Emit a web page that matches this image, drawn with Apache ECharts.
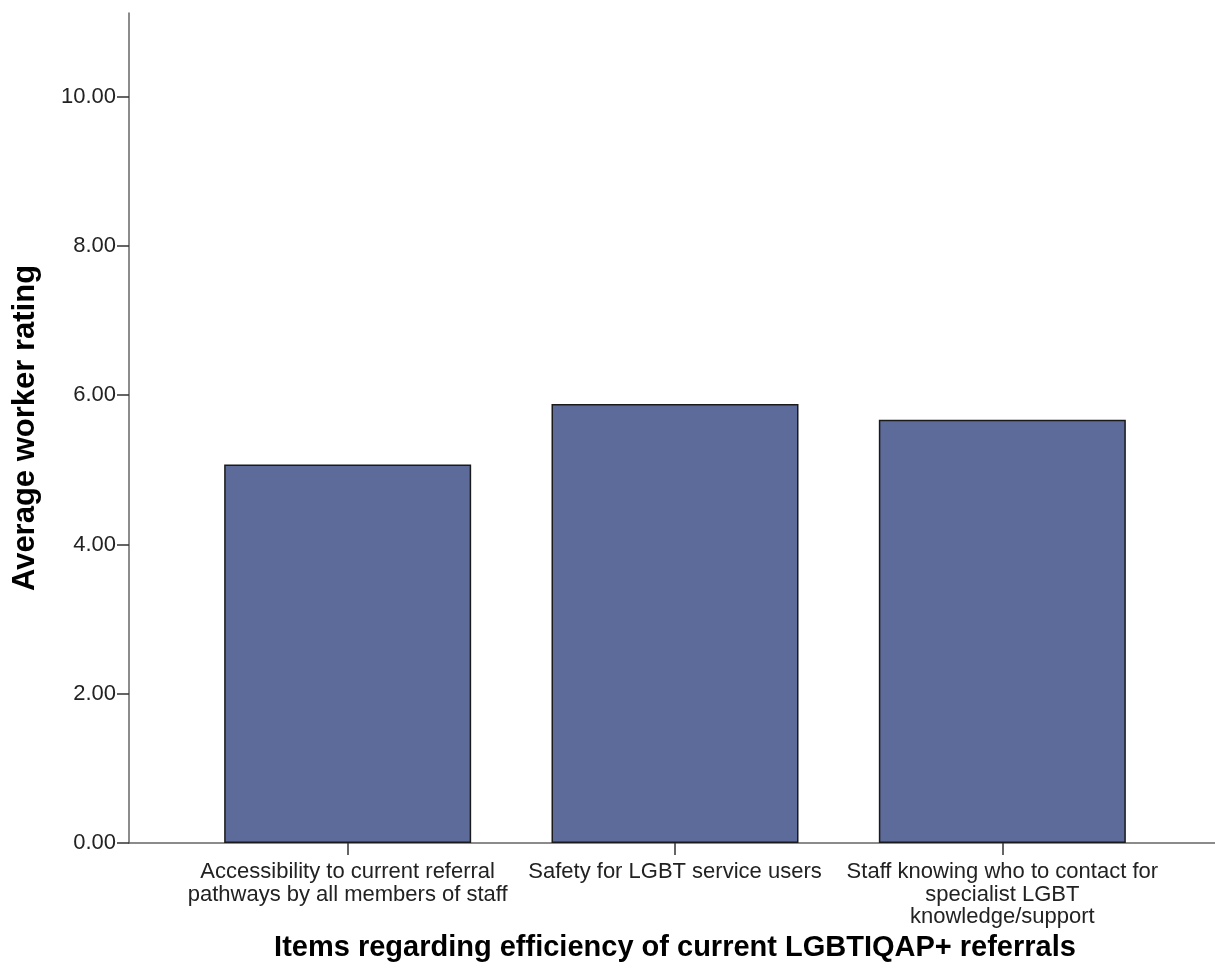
<!DOCTYPE html>
<html>
<head>
<meta charset="utf-8">
<script src="https://cdn.jsdelivr.net/npm/echarts@6/dist/echarts.min.js"></script>
<style>html,body{margin:0;padding:0;background:#fff;}#c{width:1215px;height:976px;}</style>
</head>
<body>
<div id="c"></div>
<script>
const categories = [
  "Accessibility to current referral\npathways by all members of staff",
  "Safety for LGBT service users",
  "Staff knowing who to contact for\nspecialist LGBT\nknowledge/support"
];
const values = [5.07, 5.88, 5.67];
const yTicks = [0, 2, 4, 6, 8, 10];
const yMax = 11.12;

const chart = echarts.init(document.getElementById('c'));
const font = "'Liberation Sans', Arial, sans-serif";
chart.setOption({
  backgroundColor: '#fff',
  animation: false,
  grid: [
    { left: 184, right: 49, top: 13, bottom: 133, containLabel: false, outerBoundsMode: 'none' },
    { left: 129, right: 0, top: 13, bottom: 133, containLabel: false, outerBoundsMode: 'none' }
  ],
  xAxis: [
    {
      type: 'category', gridIndex: 0, data: categories,
      name: 'Items regarding efficiency of current LGBTIQAP+ referrals',
      nameLocation: 'middle', nameGap: 84,
      nameTextStyle: { fontFamily: font, fontWeight: 'bold', fontSize: 29, color: '#000' },
      axisLine: { show: false },
      axisTick: { show: true, alignWithLabel: true, length: 12, lineStyle: { color: '#333', width: 1.5 } },
      axisLabel: { fontFamily: font, fontSize: 22, color: '#222', lineHeight: 22.5, margin: 18, interval: 0 },
      splitLine: { show: false }
    },
    {
      type: 'value', gridIndex: 1, min: 0, max: 1,
      axisLine: { show: true, lineStyle: { color: '#666', width: 1.5 } },
      axisTick: { show: false }, axisLabel: { show: false }, splitLine: { show: false }
    }
  ],
  yAxis: [
    {
      type: 'value', gridIndex: 0, min: 0, max: yMax, offset: 55,
      name: 'Average worker rating', nameLocation: 'middle', nameGap: 88,
      nameTextStyle: { fontFamily: font, fontWeight: 'bold', fontSize: 31, color: '#000' },
      axisLine: { show: true, lineStyle: { color: '#666', width: 1.5 } },
      axisTick: { show: true, length: 12, customValues: yTicks, lineStyle: { color: '#333', width: 1.5 } },
      axisLabel: { fontFamily: font, fontSize: 22, color: '#222', margin: 13, customValues: yTicks,
        formatter: v => v.toFixed(2) },
      splitLine: { show: false }
    },
    { type: 'value', gridIndex: 1, show: false }
  ],
  series: [
    {
      type: 'bar', xAxisIndex: 0, yAxisIndex: 0, data: values, barWidth: 247,
      itemStyle: { color: '#5d6b9b', borderColor: '#1a1a1a', borderWidth: 1.5 }
    }
  ]
});
</script>
</body>
</html>
